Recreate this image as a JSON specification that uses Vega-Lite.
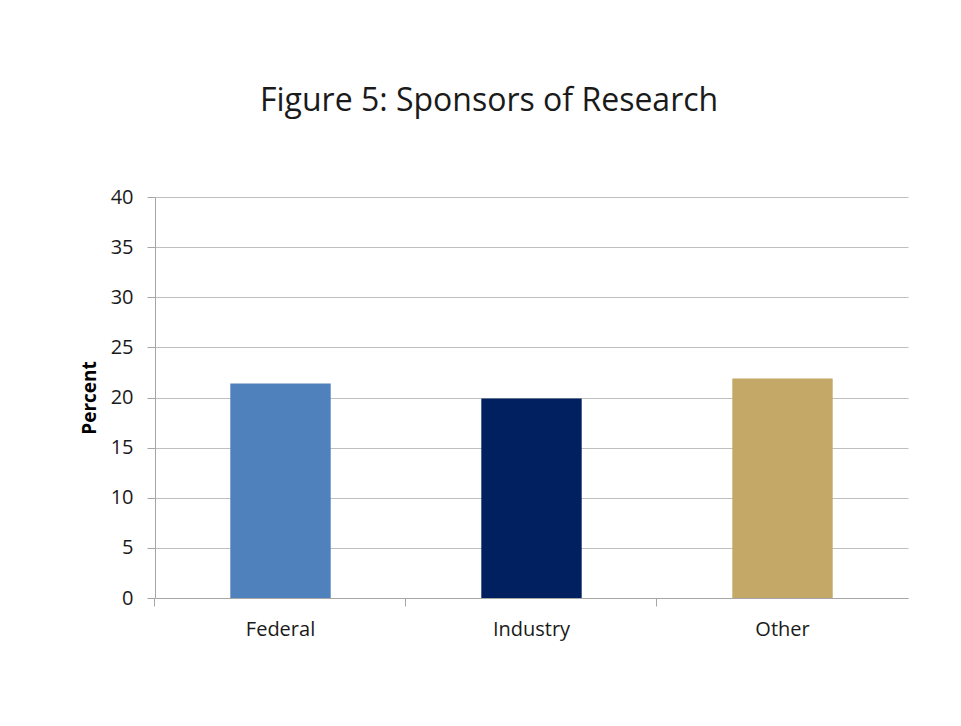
{
  "$schema": "https://vega.github.io/schema/vega-lite/v6.json",
  "autosize": {"type": "none"},
  "width": 753,
  "height": 401,
  "padding": {"left": 155, "top": 197, "right": 53, "bottom": 128},
  "background": "white",
  "title": {
    "text": "Figure 5: Sponsors of Research",
    "anchor": "middle",
    "frame": "bounds",
    "fontSize": 32,
    "font": "Open Sans",
    "fontWeight": "normal",
    "color": "#1a1a1a",
    "offset": 69,
    "dx": -5
  },
  "data": {
    "values": [
      {"sponsor": "Federal", "percent": 21.4},
      {"sponsor": "Industry", "percent": 19.9},
      {"sponsor": "Other", "percent": 21.9}
    ]
  },
  "mark": {"type": "bar"},
  "encoding": {
    "x": {
      "field": "sponsor",
      "type": "nominal",
      "sort": null,
      "scale": {"paddingInner": 0.6, "paddingOuter": 0.3},
      "axis": {
        "title": null,
        "labelAngle": 0,
        "labelFont": "Open Sans",
        "labelFontSize": 20,
        "labelColor": "#1a1a1a",
        "labelPadding": 13,
        "bandPosition": -0.753,
        "tickSize": 8,
        "tickColor": "#a6a6a6",
        "domainColor": "#a6a6a6",
        "grid": false
      }
    },
    "y": {
      "field": "percent",
      "type": "quantitative",
      "scale": {"domain": [0, 40]},
      "axis": {
        "title": "Percent",
        "titleFont": "Open Sans",
        "titleFontSize": 19,
        "titleFontWeight": "bold",
        "titleColor": "#000000",
        "titlePadding": 11,
        "values": [0, 5, 10, 15, 20, 25, 30, 35, 40],
        "labelFont": "Open Sans",
        "labelFontSize": 20,
        "labelColor": "#1a1a1a",
        "labelPadding": 14,
        "tickSize": 8,
        "tickColor": "#a6a6a6",
        "domainColor": "#a6a6a6",
        "gridColor": "#bfbfbf",
        "gridWidth": 1
      }
    },
    "color": {
      "field": "sponsor",
      "type": "nominal",
      "scale": {"domain": ["Federal", "Industry", "Other"], "range": ["#4f81bd", "#002060", "#c4a867"]},
      "legend": null
    }
  },
  "config": {"view": {"stroke": null}}
}
